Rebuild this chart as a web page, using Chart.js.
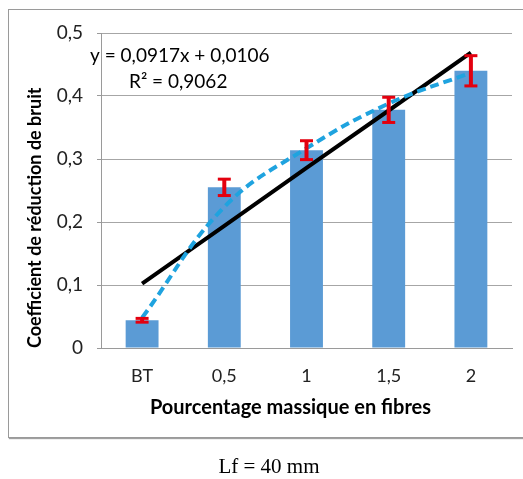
<!DOCTYPE html>
<html>
<head>
<meta charset="utf-8">
<script src="https://cdn.jsdelivr.net/npm/chart.js@4.4.1/dist/chart.umd.min.js"></script>
<style>
  html, body { margin:0; padding:0; background:#fff; width:523px; height:479px; overflow:hidden; }
  #frame { position:absolute; left:8px; top:9px; width:530px; height:427px; border:1px solid #9a9a9a; box-shadow:1px 1px 1px #a0a0a0; }
  #wrap { position:absolute; left:0; top:0; width:523px; height:479px; }
  #caption { position:absolute; left:0; width:538px; top:454px; text-align:center; font-family:"Liberation Serif", serif; font-size:21px; color:#000; }
</style>
</head>
<body>
<div id="frame"></div>
<div id="wrap"><canvas id="c"></canvas></div>
<div id="caption">Lf = 40 mm</div>
<script>
// ---- Data ----
const categories = ['BT', '0,5', '1', '1,5', '2'];
const crbMeans   = [0.044, 0.255, 0.314, 0.378, 0.440];
const crbErrors  = [0.003, 0.013, 0.015, 0.020, 0.024];
const trendLine  = [0.102, 0.194, 0.286, 0.377, 0.469];   // linear trend y = 0,0917x + 0,0106
const smoothCurve = [0.048, 0.224, 0.317, 0.388, 0.437];  // dashed smoothed curve
const yTicks = [0, 0.1, 0.2, 0.3, 0.4, 0.5];
const equationText = 'y = 0,0917x + 0,0106';
const r2Text = 'R² = 0,9062';
const xTitle = 'Pourcentage massique en fibres';
const yTitle = 'Coefficient de réduction de bruit';

const FONT = 'Lato';

const overlayPlugin = {
  id: 'overlay',
  afterDatasetsDraw(chart) {
    const ctx = chart.ctx;
    const x = chart.scales.x, y = chart.scales.y;
    ctx.save();
    ctx.strokeStyle = '#e3000f';
    ctx.lineCap = 'butt';
    crbMeans.forEach((m, i) => {
      const px = x.getPixelForValue(i);
      const yHi = y.getPixelForValue(m + crbErrors[i]);
      const yLo = y.getPixelForValue(m - crbErrors[i]);
      ctx.lineWidth = 4;
      ctx.beginPath(); ctx.moveTo(px, yHi); ctx.lineTo(px, yLo); ctx.stroke();
      ctx.lineWidth = 3;
      ctx.beginPath(); ctx.moveTo(px - 6.5, yHi); ctx.lineTo(px + 6.5, yHi); ctx.stroke();
      ctx.beginPath(); ctx.moveTo(px - 6.5, yLo); ctx.lineTo(px + 6.5, yLo); ctx.stroke();
    });
    ctx.restore();
  },
  afterDraw(chart) {
    const ctx = chart.ctx;
    const a = chart.chartArea;
    ctx.save();
    ctx.fillStyle = '#000';
    ctx.textBaseline = 'middle';
    ctx.textAlign = 'left';
    ctx.font = '19px ' + FONT;
    ctx.fillText(equationText, a.left - 11, a.top + 23);
    ctx.fillText(r2Text, a.left + 28, a.top + 49);
    ctx.font = 'bold 20px ' + FONT;
    ctx.textAlign = 'center';
    ctx.fillText(xTitle, (a.left + a.right) / 2 - 16, a.bottom + 60);
    ctx.restore();
  }
};

new Chart(document.getElementById('c'), {
  data: {
    labels: categories,
    datasets: [
      {
        type: 'line', label: 'Courbe', data: smoothCurve,
        borderColor: '#1fa3df', borderWidth: 4, borderDash: [9, 5],
        pointRadius: 0, tension: 0.4, fill: false, order: 0
      },
      {
        type: 'line', label: 'Tendance', data: trendLine,
        borderColor: '#000', borderWidth: 4, pointRadius: 0, tension: 0, fill: false, order: 1
      },
      {
        type: 'bar', label: 'CRB', data: crbMeans,
        backgroundColor: '#5b9bd5', borderWidth: 0,
        barPercentage: 1, categoryPercentage: 0.4, order: 2
      }
    ]
  },
  options: {
    responsive: true, maintainAspectRatio: false, animation: false, devicePixelRatio: 1,
    layout: { padding: { top: 33, right: 11, bottom: 59, left: 20 } },
    plugins: { legend: { display: false }, tooltip: { enabled: false } },
    scales: {
      x: {
        type: 'category',
        grid: { display: false, drawTicks: false },
        border: { display: true, color: '#9a9a9a', width: 1 },
        ticks: { color: '#222', font: { family: FONT, size: 18 }, padding: 17 },
        afterFit(s) { s.height = 72; }
      },
      y: {
        min: 0, max: 0.5,
        afterBuildTicks(s) { s.ticks = yTicks.map(v => ({ value: v })); },
        grid: { color: '#a6a6a6', lineWidth: 1, drawTicks: true, tickLength: 4, tickColor: '#9a9a9a' },
        border: { display: true, color: '#9a9a9a', width: 1 },
        ticks: {
          color: '#222', font: { family: FONT, size: 19 }, padding: 14,
          callback: v => (v === 0 ? '0' : String(Math.round(v * 10) / 10).replace('.', ','))
        },
        title: {
          display: true, text: yTitle, align: 'start', color: '#000',
          font: { family: FONT, size: 18, weight: 'bold' }, padding: { top: 4, bottom: 0 }
        },
        afterFit(s) { s.width = 81; }
      }
    }
  },
  plugins: [overlayPlugin]
});
</script>
</body>
</html>
